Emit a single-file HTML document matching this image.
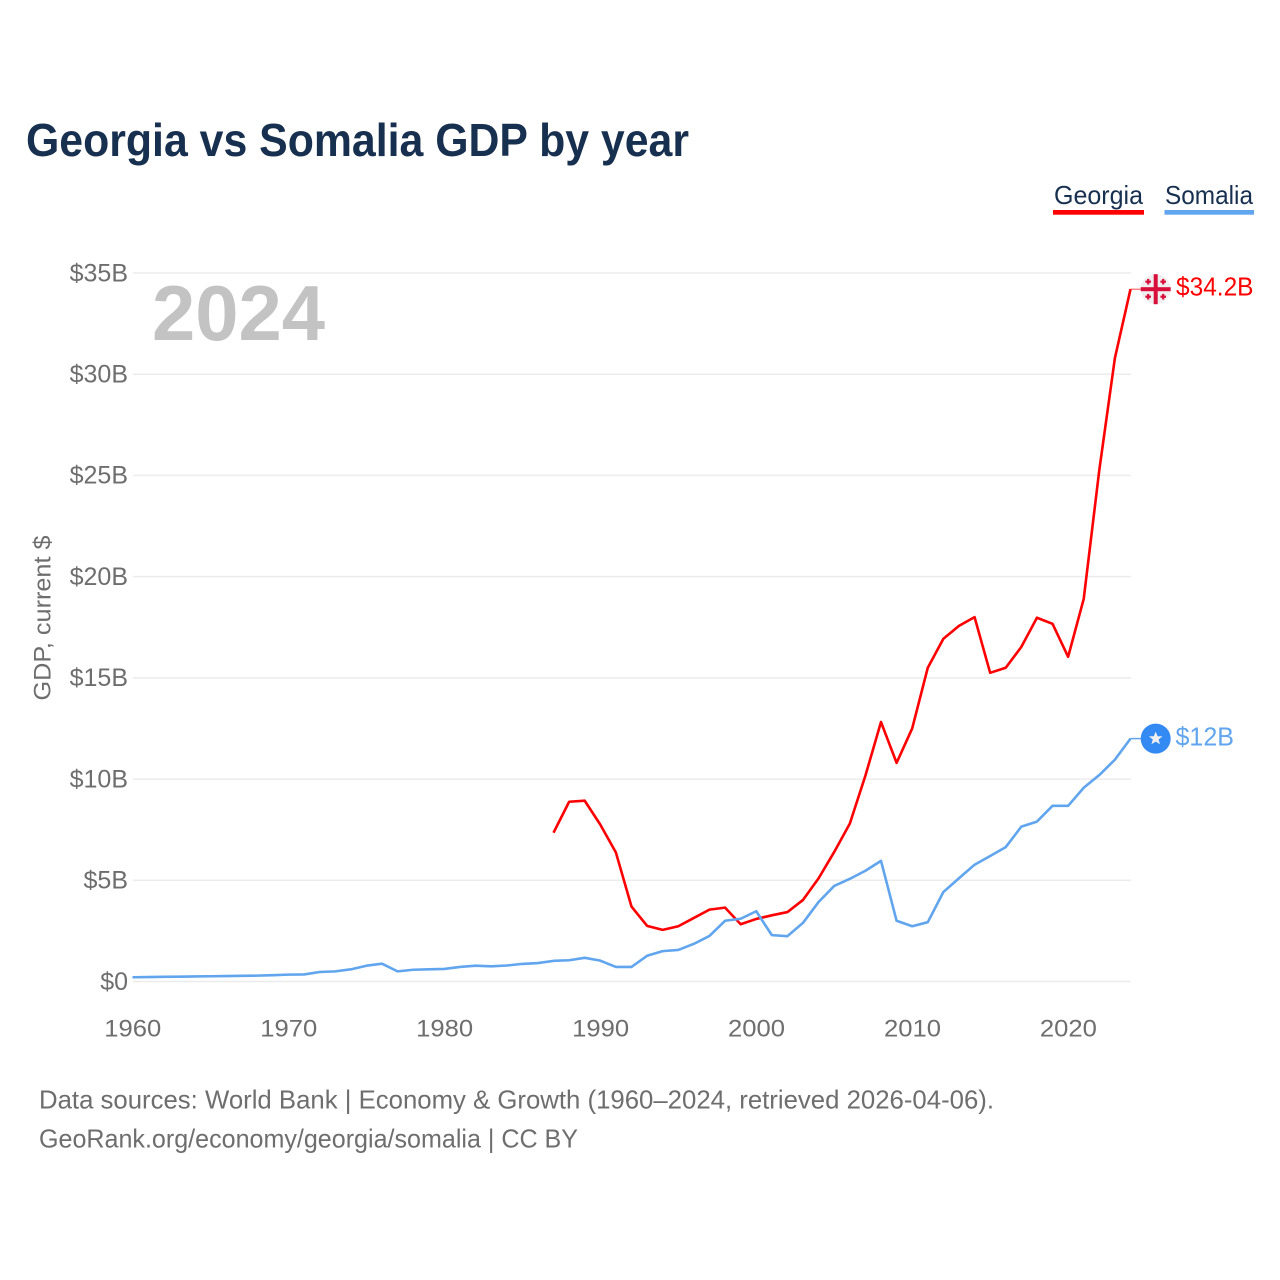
<!DOCTYPE html>
<html lang="en">
<head>
<meta charset="utf-8">
<title>Georgia vs Somalia GDP by year</title>
<style>
html,body{margin:0;padding:0;background:#fff;width:1280px;height:1280px;overflow:hidden}
svg{display:block;font-family:"Liberation Sans",sans-serif}
</style>
</head>
<body>
<svg id="chart" xmlns="http://www.w3.org/2000/svg" width="1280" height="1280" viewBox="0 0 1280 1280">
  <rect width="1280" height="1280" fill="#ffffff"/>
  <text x="26" y="156" font-size="46" font-weight="700" fill="#18304f" textLength="663" lengthAdjust="spacingAndGlyphs">Georgia vs Somalia GDP by year</text>
  <g>
    <g>
      <text x="1054" y="204" font-size="26" fill="#18304f" textLength="89" lengthAdjust="spacingAndGlyphs">Georgia</text>
      <rect x="1053" y="210" width="91" height="4.7" fill="#ff0000"/>
    </g>
    <g>
      <text x="1165" y="204" font-size="26" fill="#18304f" textLength="88" lengthAdjust="spacingAndGlyphs">Somalia</text>
      <rect x="1164.5" y="210" width="89.5" height="4.7" fill="#60a5ed"/>
    </g>
  </g>
  <text transform="translate(50.5 618) rotate(-90)" text-anchor="middle" font-size="24.5" fill="#6e6e6e" textLength="165" lengthAdjust="spacingAndGlyphs">GDP, current $</text>
  <g id="grid"></g>
  <g id="y-ticks"></g>
  <g id="x-ticks"></g>
  <text x="152" y="340" font-size="78" font-weight="700" fill="#c3c3c3" textLength="173" lengthAdjust="spacingAndGlyphs">2024</text>
  <g id="series"></g>
  <g id="markers"></g>
  <text x="39" y="1108.5" font-size="26" fill="#6e6e6e" textLength="955" lengthAdjust="spacingAndGlyphs">Data sources: World Bank | Economy &amp; Growth (1960–2024, retrieved 2026-04-06).</text>
  <text x="39" y="1147.5" font-size="26" fill="#6e6e6e" textLength="539" lengthAdjust="spacingAndGlyphs">GeoRank.org/economy/georgia/somalia | CC BY</text>
</svg>
<script>
const years = [1960,1961,1962,1963,1964,1965,1966,1967,1968,1969,1970,1971,1972,1973,1974,1975,1976,1977,1978,1979,1980,1981,1982,1983,1984,1985,1986,1987,1988,1989,1990,1991,1992,1993,1994,1995,1996,1997,1998,1999,2000,2001,2002,2003,2004,2005,2006,2007,2008,2009,2010,2011,2012,2013,2014,2015,2016,2017,2018,2019,2020,2021,2022,2023,2024];
const georgiaValues = [null,null,null,null,null,null,null,null,null,null,null,null,null,null,null,null,null,null,null,null,null,null,null,null,null,null,null,7.35,8.88,8.93,7.75,6.37,3.7,2.75,2.55,2.73,3.14,3.55,3.65,2.83,3.09,3.27,3.43,4.03,5.1,6.4,7.8,10.17,12.82,10.8,12.5,15.5,16.93,17.57,18.0,15.25,15.5,16.53,17.97,17.67,16.04,18.9,25.27,30.8,34.2];
const somaliaValues = [0.21,0.22,0.23,0.24,0.25,0.26,0.27,0.28,0.29,0.31,0.34,0.35,0.47,0.5,0.6,0.78,0.88,0.5,0.58,0.6,0.62,0.72,0.78,0.75,0.79,0.87,0.91,1.02,1.05,1.17,1.03,0.72,0.72,1.27,1.5,1.56,1.86,2.25,3.0,3.1,3.47,2.29,2.24,2.9,3.93,4.72,5.07,5.47,5.96,3.0,2.73,2.93,4.42,5.1,5.77,6.2,6.64,7.65,7.9,8.68,8.68,9.57,10.2,10.96,12.0];
const yTickValues = [0,5,10,15,20,25,30,35];
const yTickLabels = ["$0","$5B","$10B","$15B","$20B","$25B","$30B","$35B"];
const xTickValues = [1960,1970,1980,1990,2000,2010,2020];
const xTickLabels = ["1960","1970","1980","1990","2000","2010","2020"];
const georgiaEndLabel = "$34.2B";
const somaliaEndLabel = "$12B";

const NS = "http://www.w3.org/2000/svg";
const plotLeft = 132.5, plotRight = 1130.5, plotBottom = 981.5, plotTop = 273;
const gridRight = 1131;
const xScale = v => plotLeft + (v - 1960) / (2024 - 1960) * (plotRight - plotLeft);
const yScale = v => plotBottom - v / 35 * (plotBottom - plotTop);

function make(tag, attrs, parent, text) {
  const el = document.createElementNS(NS, tag);
  for (const k in attrs) el.setAttribute(k, attrs[k]);
  if (text !== undefined) el.textContent = text;
  parent.appendChild(el);
  return el;
}

const grid = document.getElementById('grid');
const yTicksGroup = document.getElementById('y-ticks');
yTickValues.forEach((v, i) => {
  const line = make('line', {x1: 133, x2: gridRight, y1: yScale(v), y2: yScale(v), stroke: '#ececec', 'stroke-width': 1.5}, grid);
  
  
  const label = make('text', {x: 128, y: yScale(v) + 8.3, 'text-anchor': 'end', 'font-size': 25, fill: '#6e6e6e'}, yTicksGroup, yTickLabels[i]);
  
  
});

const xTicksGroup = document.getElementById('x-ticks');
xTickValues.forEach((v, i) => {
  const label = make('text', {x: xScale(v) + 0.3, y: 1036.5, 'text-anchor': 'middle', 'font-size': 24.5, fill: '#6e6e6e', 'textLength': 57, lengthAdjust: 'spacingAndGlyphs'}, xTicksGroup, xTickLabels[i]);
  
  
});

function pathFor(values) {
  let d = '';
  values.forEach((v, i) => {
    if (v === null) return;
    d += (d ? 'L' : 'M') + xScale(years[i]).toFixed(2) + ' ' + yScale(v).toFixed(2);
  });
  return d;
}

const seriesGroup = document.getElementById('series');
const georgiaLine = make('path', {d: pathFor(georgiaValues), fill: 'none', stroke: '#ff0000', 'stroke-width': 2.6, 'stroke-linejoin': 'round'}, seriesGroup);


const somaliaLine = make('path', {d: pathFor(somaliaValues), fill: 'none', stroke: '#60a5ed', 'stroke-width': 2.6, 'stroke-linejoin': 'round'}, seriesGroup);



const markers = document.getElementById('markers');
const markerX = 1155.7;
const gEndY = yScale(georgiaValues[georgiaValues.length - 1]);
const sEndY = yScale(somaliaValues[somaliaValues.length - 1]);

const gConnector = make('line', {x1: plotRight, x2: 1141, y1: gEndY, y2: gEndY, stroke: '#ff0000', 'stroke-width': 1, opacity: 0.7}, markers);


const sConnector = make('line', {x1: plotRight, x2: 1141, y1: sEndY, y2: sEndY, stroke: '#60a5ed', 'stroke-width': 1.5}, markers);



const flagG = make('g', {transform: 'translate(' + markerX + ' ' + gEndY + ')'}, markers);


make('circle', {r: 15, fill: '#efefef'}, flagG);
make('rect', {x: -15, y: -2, width: 30, height: 4, fill: '#d80f3a'}, flagG);
make('rect', {x: -2, y: -15, width: 4, height: 30, fill: '#d80f3a'}, flagG);
[[-7.5, -7.5], [7.5, -7.5], [-7.5, 7.5], [7.5, 7.5]].forEach(c => {
  make('rect', {x: c[0] - 2.8, y: c[1] - 1.1, width: 5.6, height: 2.2, fill: '#d80f3a'}, flagG);
  make('rect', {x: c[0] - 1.1, y: c[1] - 2.8, width: 2.2, height: 5.6, fill: '#d80f3a'}, flagG);
});

const flagS = make('g', {transform: 'translate(' + markerX + ' ' + sEndY + ')'}, markers);


make('circle', {r: 15, fill: '#338af3'}, flagS);
make('polygon', {points: '0,-7 1.9,-2.3 6.8,-2.2 2.9,0.9 4.3,5.7 0,3 -4.3,5.7 -2.9,0.9 -6.8,-2.2 -1.9,-2.3', fill: '#f0f0f0'}, flagS);

const gLabel = make('text', {x: 1176, y: gEndY + 6.5, 'font-size': 25.5, fill: '#ff0000', textLength: 77.5, lengthAdjust: 'spacingAndGlyphs'}, markers, georgiaEndLabel);


const sLabel = make('text', {x: 1175.5, y: sEndY + 7, 'font-size': 25.5, fill: '#60a5ed', textLength: 58.5, lengthAdjust: 'spacingAndGlyphs'}, markers, somaliaEndLabel);


</script>
</body>
</html>
